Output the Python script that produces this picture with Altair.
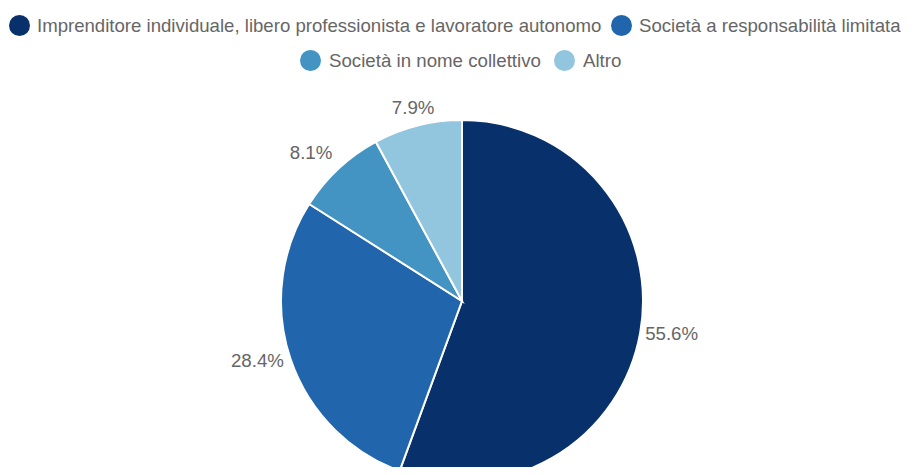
import altair as alt
import pandas as pd

categories = [
    "Imprenditore individuale, libero professionista e lavoratore autonomo",
    "Società a responsabilità limitata",
    "Società in nome collettivo",
    "Altro",
]
values = [55.6, 28.4, 8.1, 7.9]
colors = ["#08306b", "#2166ac", "#4393c3", "#92c5de"]

df = pd.DataFrame({"categoria": categories, "valore": values, "ordine": list(range(len(categories)))})

FONT = "Liberation Sans"
FS = 18.7
GREY = "#666666"
CX, CY, R = 454, 293, 181


def legend(vals, lx, ly, fs, offset, colpad):
    return alt.Legend(
        values=vals, orient="none", legendX=lx, legendY=ly, direction="horizontal",
        title=None, symbolType="circle", symbolSize=441, symbolStrokeWidth=0,
        symbolOpacity=1, labelFont=FONT, labelFontSize=fs, labelColor=GREY,
        labelLimit=0, labelOffset=offset, columnPadding=colpad, padding=0,
    )


def arc_layer(lg):
    return alt.Chart(df).mark_arc(radius=R, stroke="white", strokeWidth=2).encode(
        theta=alt.Theta("valore:Q", stack=True),
        order=alt.Order("ordine:Q"),
        color=alt.Color("categoria:N", sort=categories,
                        scale=alt.Scale(domain=categories, range=colors), legend=lg),
        x=alt.value(CX), y=alt.value(CY),
    )


arcs_a = arc_layer(legend(categories[:2], 1, 7, 18.6, 7, 9))
arcs_b = arc_layer(legend(categories[2:], 292, 42, FS, 8, 13))

base_lab = alt.Chart(df).transform_window(
    cum="sum(valore)", sort=[alt.SortField("ordine")], frame=[None, 0]
).transform_joinaggregate(tot="sum(valore)").transform_calculate(
    mid="(datum.cum - datum.valore / 2) / datum.tot",
    etichetta="format(datum.valore, '.1f') + '%'",
)


def lab_layer(cond, align, radius, dy=0):
    return base_lab.transform_filter(cond).mark_text(
        radius=radius, font=FONT, fontSize=FS, color=GREY, align=align,
        baseline="middle", dy=dy,
    ).encode(
        theta=alt.Theta("mid:Q", scale=alt.Scale(domain=[0, 1])),
        text="etichetta:N",
        x=alt.value(CX), y=alt.value(CY),
    )


lab_right = lab_layer("datum.mid <= 0.5", "left", 186)
lab_left = lab_layer("datum.mid > 0.5 && datum.mid < 0.75", "right", 188)
lab_upleft = lab_layer("datum.mid >= 0.75 && datum.mid < 0.92", "right", 190, dy=-9)
lab_top = lab_layer("datum.mid >= 0.92", "center", 199)

chart = alt.layer(arcs_a, arcs_b, lab_right, lab_left, lab_upleft, lab_top).resolve_scale(
    color="independent", theta="independent"
).properties(
    width=900, height=459, padding=0, autosize=alt.AutoSizeParams(type="none"),
).configure_view(stroke=None)

chart.save("out.html", embed_options={"renderer": "svg", "actions": False})
